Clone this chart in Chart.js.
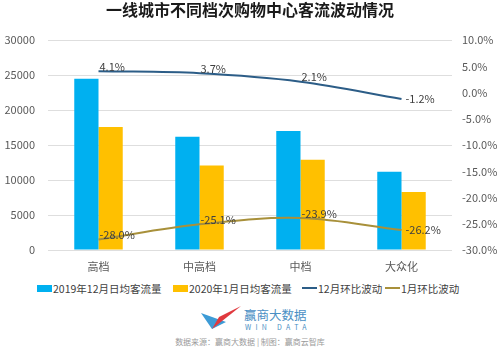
<!DOCTYPE html>
<html>
<head>
<meta charset="utf-8">
<script src="https://cdn.jsdelivr.net/npm/chart.js@4/dist/chart.umd.min.js"></script>
<style>
  body{margin:0;width:500px;height:350px;background:#fff;overflow:hidden;font-family:"Noto Sans CJK SC","Noto Sans",sans-serif;position:relative}
  .lg{position:absolute;top:281px;height:14px;display:flex;align-items:center;font-size:10.5px;color:#404040;white-space:nowrap}
  .box{width:15px;height:7px;margin-right:1px}
  .ln{width:15px;height:2px;margin-right:1px}
</style>
</head>
<body>
<canvas id="chart" width="500" height="278"></canvas>

<div class="lg" style="left:37px"><span class="box" style="background:#00b0f0"></span>2019年12月日均客流量</div>
<div class="lg" style="left:173px"><span class="box" style="background:#ffc000"></span>2020年1月日均客流量</div>
<div class="lg" style="left:302px"><span class="ln" style="background:#2c5d87"></span>12月环比波动</div>
<div class="lg" style="left:385px"><span class="ln" style="background:#a8903a"></span>1月环比波动</div>

<svg style="position:absolute;left:198px;top:298px" width="46" height="40">
  <polygon points="3,15 14,31 28,24" fill="#3d9bd6"/>
  <polygon points="43,8 14,31 21,19" fill="#e0393e"/>
</svg>
<div style="position:absolute;left:244px;top:308px;font-size:12.5px;color:#4a8fc4;line-height:14px">赢商大数据</div>
<div style="position:absolute;left:245px;top:323px;font-size:7px;color:#4a8fc4;letter-spacing:4.3px;line-height:9px">WIN DATA</div>
<div style="position:absolute;left:0;width:500px;text-align:center;top:337px;font-size:8px;color:#9a9a9a;line-height:10px">数据来源：赢商大数据 | 制图：赢商云智库</div>

<script>
// 数据
const categories = ['高档', '中高档', '中档', '大众化'];
const dec2019 = [24500, 16200, 17000, 11200];   // 2019年12月日均客流量
const jan2020 = [17600, 12100, 12900, 8300];    // 2020年1月日均客流量
const decChg = [4.1, 3.7, 2.1, -1.2];           // 12月环比波动 (%)
const janChg = [-28.0, -25.1, -23.9, -26.2];    // 1月环比波动 (%)
const leftTicks = [0, 5000, 10000, 15000, 20000, 25000, 30000];
const rightTicks = [-30, -25, -20, -15, -10, -5, 0, 5, 10];

const FONT = '"Noto Sans CJK SC","Noto Sans",sans-serif';

// 折线数据标签
const lineLabels = {
  id: 'lineLabels',
  afterDatasetsDraw(chart){
    const ctx = chart.ctx;
    ctx.save();
    ctx.font = '11px ' + FONT;
    ctx.fillStyle = '#404040';
    chart.data.datasets.forEach((ds, i)=>{
      if(ds.type !== 'line') return;
      const meta = chart.getDatasetMeta(i);
      meta.data.forEach((pt, j)=>{
        const txt = ds.data[j].toFixed(1) + '%';
        ctx.textAlign = 'left';
        if(j === meta.data.length - 1){
          ctx.textBaseline = 'middle';
          ctx.fillText(txt, pt.x + 4, pt.y);
        } else {
          ctx.textBaseline = 'bottom';
          ctx.fillText(txt, pt.x + 1, pt.y + 1);
        }
      });
    });
    ctx.restore();
  }
};

new Chart(document.getElementById('chart').getContext('2d'), {
  data: {
    labels: categories,
    datasets: [
      {type:'line', label:'12月环比波动', data: decChg, yAxisID:'y1', borderColor:'#2c5d87', borderWidth:2, pointRadius:0, tension:0.35, order:0},
      {type:'line', label:'1月环比波动', data: janChg, yAxisID:'y1', borderColor:'#a8903a', borderWidth:2, pointRadius:0, tension:0.35, order:1},
      {type:'bar', label:'2019年12月日均客流量', data: dec2019, yAxisID:'y', backgroundColor:'#00b0f0', barPercentage:1, categoryPercentage:0.48, order:2},
      {type:'bar', label:'2020年1月日均客流量', data: jan2020, yAxisID:'y', backgroundColor:'#ffc000', barPercentage:1, categoryPercentage:0.48, order:3}
    ]
  },
  options: {
    responsive: false,
    animation: false,
    layout: {padding: 0},
    plugins: {
      legend: {display: false},
      tooltip: {enabled: false},
      title: {
        display: true,
        text: '一线城市不同档次购物中心客流波动情况',
        color: '#1a1a1a',
        font: {family: FONT, size: 16, weight: 'bold'},
        padding: {top: 0, bottom: 21}
      }
    },
    scales: {
      x: {
        grid: {display: false, drawTicks: false},
        border: {display: false},
        ticks: {color: '#595959', font: {family: FONT, size: 11}, padding: 10},
        afterFit(s){ s.height = 28; }
      },
      y: {
        position: 'left',
        min: 0, max: 30000,
        afterBuildTicks(s){ s.ticks = leftTicks.map(v=>({value:v})); },
        grid: {color: '#dedede', drawTicks: false},
        border: {display: false},
        ticks: {color: '#595959', font: {family: FONT, size: 11}, padding: 13, callback: v => String(v)},
        afterFit(s){ s.width = 48; }
      },
      y1: {
        position: 'right',
        min: -30, max: 10,
        afterBuildTicks(s){ s.ticks = rightTicks.map(v=>({value:v})); },
        grid: {display: false, drawTicks: false},
        border: {display: false},
        ticks: {color: '#595959', font: {family: FONT, size: 11}, padding: 10, callback: v => v.toFixed(1) + '%'},
        afterFit(s){ s.width = 48; }
      }
    }
  },
  plugins: [lineLabels]
});
</script>
</body>
</html>
